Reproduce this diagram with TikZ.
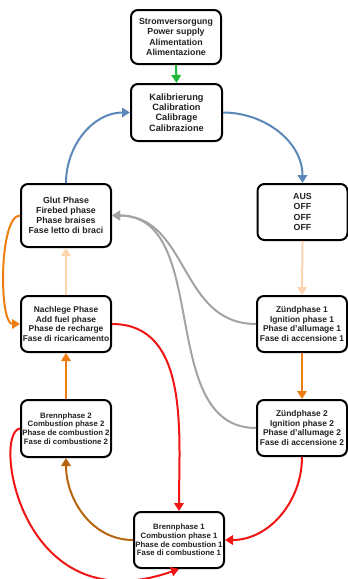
\documentclass[tikz,border=0pt]{standalone}
\usepackage{fontspec}
\setmainfont{Liberation Sans}
\usetikzlibrary{arrows.meta}
\definecolor{cgreen}{HTML}{1FB83A}
\definecolor{cblue}{HTML}{5B88B8}
\definecolor{cpeach}{HTML}{FDD5AE}
\definecolor{corange}{HTML}{EE7E10}
\definecolor{cgray}{HTML}{A3A3A3}
\definecolor{cred}{HTML}{F01414}
\definecolor{cbrown}{HTML}{B8650F}
\definecolor{ctext}{HTML}{222222}
\tikzset{
  box/.style={draw=black, line width=2pt, rounded corners=7pt, fill=white,
    minimum width=90pt, minimum height=56pt, inner sep=0pt, align=center,
    text=ctext},
  bigtxt/.style={font=\fontsize{8.8}{10.2}\selectfont\bfseries},
  kaltxt/.style={font=\fontsize{9.2}{10.3}\selectfont\bfseries},
  midtxt/.style={font=\fontsize{8.4}{9.6}\selectfont\bfseries},
  smalltxt/.style={font=\fontsize{7.8}{8.8}\selectfont\bfseries},
  conn/.style={line width=2pt, -{Triangle[length=8pt,width=9.5pt]}},
}
\begin{document}
\begin{tikzpicture}[x=1pt,y=1pt]
\useasboundingbox (0,0) rectangle (348,-579);
\node[box,bigtxt,minimum height=54pt] (strom) at (176,-37) {Stromversorgung\\Power supply\\Alimentation\\Alimentazione};
\node[box,kaltxt,minimum width=91pt,minimum height=57pt] (kal) at (176.5,-112.5) {Kalibrierung\\Calibration\\Calibrage\\Calibrazione};
\node[box,bigtxt,minimum height=63pt] (glut) at (66,-215.5) {Glut Phase\\Firebed phase\\Phase braises\\Fase letto di braci};
\node[box,bigtxt] (aus) at (302.5,-212) {AUS\\OFF\\OFF\\OFF};
\node[box,midtxt] (nach) at (66,-324) {Nachlege Phase\\Add fuel phase\\Phase de recharge\\Fase di ricaricamento};
\node[box,midtxt] (z1) at (302,-324) {Zündphase 1\\Ignition phase 1\\Phase d'allumage 1\\Fase di accensione 1};
\node[box,midtxt] (z2) at (302,-428) {Zündphase 2\\Ignition phase 2\\Phase d'allumage 2\\Fase di accensione 2};
\node[box,smalltxt,minimum height=57pt] (b2) at (66,-428.5) {Brennphase 2\\Combustion phase 2\\Phase de combustion 2\\Fase di combustione 2};
\node[box,smalltxt] (b1) at (179,-540) {Brennphase 1\\Combustion phase 1\\Phase de combustion 1\\Fase di combustione 1};

\draw[conn,cgreen] (strom.south) -- (kal.north);
\draw[conn,cblue] (glut.north) to[out=90,in=180] (kal.west);
\draw[conn,cblue] (kal.east) to[out=0,in=90] (aus.north);
\draw[conn,cpeach] (aus.south) -- (z1.north);
\draw[conn,corange] (z1.south) -- (z2.north);
\draw[conn,cgray] (z1.west) to[out=180,in=0,looseness=1.1] (glut.east);
\draw[conn,cgray] (z2.west) to[out=180,in=0] (glut.east);
\draw[conn,corange] (glut.west) to[out=180,in=180,looseness=0.5] (nach.west);
\draw[conn,cpeach] (nach.north) -- (glut.south);
\draw[conn,corange] (b2.north) -- (nach.south);
\draw[conn,cbrown] (b1.west) to[out=180,in=-90] (b2.south);
\draw[conn,cred] (nach.east) to[out=0,in=90] (b1.north);
\draw[conn,cred] (z2.south) to[out=-90,in=0] (b1.east);
\draw[conn,cred] (b2.west) .. controls (-8,-432) and (20,-625) .. (b1.south);
\end{tikzpicture}
\end{document}
